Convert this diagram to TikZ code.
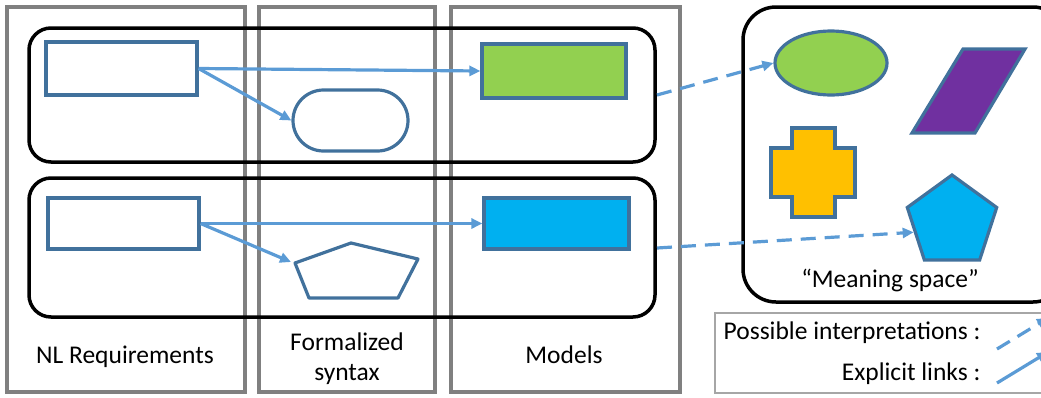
\documentclass[tikz,border=0pt]{standalone}
\usepackage{fontspec}
\setmainfont{Carlito}
\usepackage{xcolor}
\usepackage{tikz}
\usetikzlibrary{shapes.geometric,shapes.misc,arrows.meta,positioning}
\definecolor{colgray}{HTML}{808080}
\definecolor{leggray}{HTML}{A6A6A6}
\definecolor{formblue}{HTML}{41719C}
\definecolor{linkblue}{HTML}{5B9BD5}
\definecolor{modgreen}{HTML}{92D050}
\definecolor{modcyan}{HTML}{00B0F0}
\definecolor{crossorange}{HTML}{FFC000}
\definecolor{parapurple}{HTML}{7030A0}

\begin{document}
\begin{tikzpicture}[x=1pt,y=-1pt,
  column/.style={draw=colgray,line width=3.5pt},
  group/.style={draw=black,line width=3.5pt,rounded corners=22pt},
  form/.style={draw=formblue,line width=3.2pt,inner sep=0pt},
  link/.style={draw=linkblue,line width=3.2pt,-{Triangle[length=11pt,width=10pt]}},
  interp/.style={link,dash pattern=on 15pt off 9pt},
  caption/.style={font=\fontsize{25.5}{30}\selectfont}]
 	\useasboundingbox (0,0) rectangle (1041,397);
 	\clip (0,0) rectangle (1041,397);
 	% columns
 	\draw[column] (7,7) rectangle (245,392);
 	\draw[column] (259,7) rectangle (435,392);
 	\draw[column] (451,7) rectangle (680,392);
 		\node[caption,anchor=base] (nlcap) at (125,363) {NL Requirements};
 		\node[caption,align=center] (fscap) at (347,359) {Formalized\\syntax};
 		\node[caption,anchor=base] (modcap) at (564,363) {Models};
 	% groups
 	\draw[group] (29,28) rectangle (655,162);
 	\draw[group] (29,178) rectangle (655,317);
 	\coordinate (g1) at (657,95);
 	\coordinate (g2) at (657,248);
 	\node[form,rectangle,minimum width=151pt,minimum height=53pt] (nl1) at (121.5,68.5) {};
 	\node[form,rectangle,minimum width=151pt,minimum height=51pt] (nl2) at (123.5,223.5) {};
 	\node[form,rounded rectangle,minimum width=115pt,minimum height=61pt] (stad) at (350.5,120.5) {};
 	\draw[form,line join=round] (295,263) -- (351,243) -- (418,259) -- (398,298) -- (309,298) -- cycle;
 	\coordinate (fpin) at (291,262);
 	\node[form,rectangle,fill=modgreen,minimum width=144pt,minimum height=54pt] (mod1) at (554,71) {};
 	\node[form,rectangle,fill=modcyan,minimum width=145pt,minimum height=51pt] (mod2) at (556.5,223.5) {};
 	% meaning space
 	\draw[group,rounded corners=33pt] (743,7) rectangle (1066,302);
 	\node[form,ellipse,fill=modgreen,minimum width=112pt,minimum height=64pt] (mell) at (831,63) {};
 	\draw[form,fill=parapurple] (963,49) -- (1025,49) -- (975,133) -- (912,133) -- cycle;
 	\draw[form,fill=crossorange] (792,128) -- (835,128) -- (835,148) -- (855,148) -- (855,197) -- (835,197)
 		-- (835,217) -- (792,217) -- (792,197) -- (771,197) -- (771,148) -- (792,148) -- cycle;
 	\node[form,regular polygon,regular polygon sides=5,fill=modcyan,minimum size=94pt] (mpent) at (952,222) {};
 		\node[caption,anchor=base] (mscap) at (890,287) {“Meaning space”};
 	% links
 	\draw[link] (nl1.east) -- (mod1.west);
 	\draw[link] (nl1.east) -- (stad.west);
 	\draw[link] (nl2.east) -- (mod2.west);
 	\draw[link] (nl2.east) -- (fpin);
 	\draw[interp] (g1) -- (mell.west);
 	\draw[interp] (g2) -- (mpent.195);
 	% legend
 	\draw[leggray,line width=1.5pt] (715,313) rectangle (1060,393);
 		\node[caption,anchor=base east] (pitext) at (984,339) {Possible interpretations :};
 		\node[caption,anchor=base east] (eltext) at (984,380) {Explicit links :};
 	\coordinate (pi0) at (997,349);
 	\coordinate (pi1) at (1048,318);
 	\coordinate (el0) at (997,383);
 	\coordinate (el1) at (1048,352);
 	\draw[interp] (pi0) -- (pi1);
 	\draw[link] (el0) -- (el1);
 \end{tikzpicture}
\end{document}
